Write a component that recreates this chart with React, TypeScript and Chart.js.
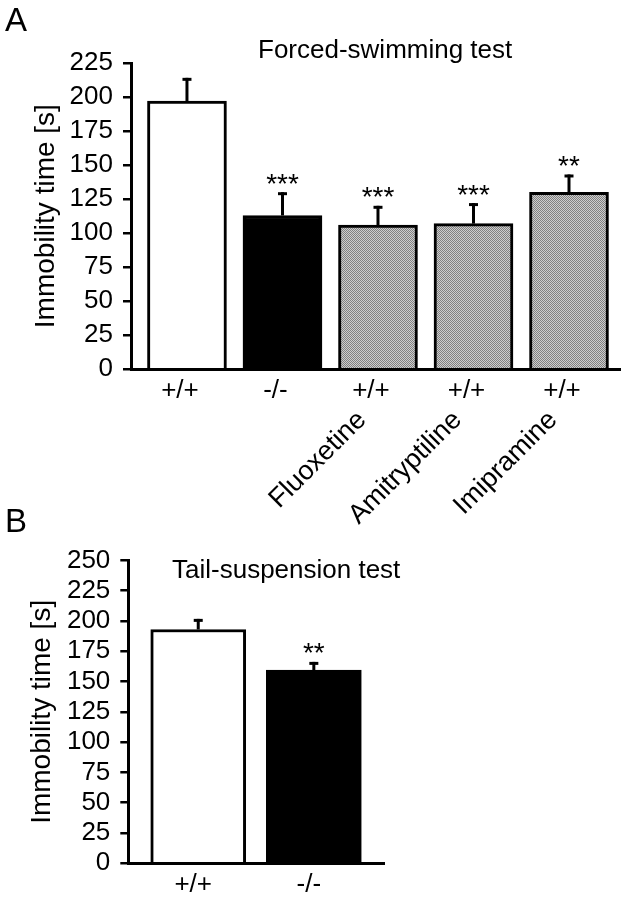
import React, { useEffect, useRef } from 'react';
import { Chart, registerables } from 'chart.js';

Chart.register(...registerables);

const FONT = '"Liberation Sans", Arial, Helvetica, sans-serif';

// ---------- Panel A: Forced-swimming test ----------
const A_TITLE = 'Forced-swimming test';
const A_GENOTYPES = ['+/+', '-/-', '+/+', '+/+', '+/+'];
const A_TREATMENTS = ['', '', 'Fluoxetine', 'Amitryptiline', 'Imipramine'];
const A_MEANS = [197, 113, 106, 107, 130];
const A_SEM = [16, 16, 13, 14, 12];
const A_SIG = ['', '***', '***', '***', '**'];
const A_Y_MAX = 225;

// ---------- Panel B: Tail-suspension test ----------
const B_TITLE = 'Tail-suspension test';
const B_GENOTYPES = ['+/+', '-/-'];
const B_MEANS = [193, 159.5];
const B_SEM = [7.5, 5.5];
const B_SIG = ['', '**'];
const B_Y_MAX = 250;

const Y_STEP = 25;
const Y_LABEL = 'Immobility time [s]';

function makeStipple(): CanvasPattern | string {
  const c = document.createElement('canvas');
  c.width = 2;
  c.height = 2;
  const g = c.getContext('2d');
  if (!g) return '#a5a5a5';
  g.fillStyle = '#cdcdcd';
  g.fillRect(0, 0, 2, 2);
  g.fillStyle = '#808080';
  g.fillRect(0, 0, 1, 1);
  g.fillRect(1, 1, 1, 1);
  return g.createPattern(c, 'repeat') || '#a5a5a5';
}

function errorBarPlugin(means: number[], sems: number[], sig: string[]) {
  return {
    id: 'errorBars',
    afterDatasetsDraw(chart: any) {
      const { ctx } = chart;
      const xs = chart.scales.x;
      const ys = chart.scales.y;
      ctx.save();
      ctx.strokeStyle = '#000';
      ctx.fillStyle = '#000';
      ctx.lineWidth = 3;
      ctx.lineCap = 'butt';
      means.forEach((m, i) => {
        const x = xs.getPixelForValue(i);
        const y0 = ys.getPixelForValue(m);
        const y1 = ys.getPixelForValue(m + sems[i]);
        ctx.beginPath();
        ctx.moveTo(x, y0);
        ctx.lineTo(x, y1 - 1.5);
        ctx.stroke();
        ctx.beginPath();
        ctx.moveTo(x - 4.5, y1);
        ctx.lineTo(x + 4.5, y1);
        ctx.stroke();
        if (sig[i]) {
          ctx.font = `28px ${FONT}`;
          ctx.textAlign = 'center';
          ctx.textBaseline = 'alphabetic';
          ctx.fillText(sig[i], x, y1 - 1);
        }
      });
      ctx.restore();
    },
  };
}

function textPlugin(items: { text: string; x: number; y: number; size: number }[]) {
  return {
    id: 'panelText',
    afterDraw(chart: any) {
      const { ctx } = chart;
      ctx.save();
      ctx.fillStyle = '#000';
      ctx.textAlign = 'left';
      ctx.textBaseline = 'alphabetic';
      items.forEach((it) => {
        ctx.font = `${it.size}px ${FONT}`;
        ctx.fillText(it.text, it.x, it.y);
      });
      ctx.restore();
    },
  };
}

function buildConfig(p: {
  genotypes: string[];
  treatments?: string[];
  means: number[];
  sems: number[];
  sig: string[];
  yMax: number;
  fills: any[];
  xMin: number;
  xMax: number;
  barThickness: number;
  padding: { top: number; right: number; bottom: number; left: number };
  yWidth: number;
  yTitlePad: number;
  xHeight: number;
  x2Height?: number;
  labelOffset: number;
  texts: { text: string; x: number; y: number; size: number }[];
}) {
  const idxTicks = (s: any) => {
    s.ticks = p.genotypes.map((_, i) => ({ value: i }));
  };
  const scales: any = {
    x: {
      type: 'linear',
      position: 'bottom',
      weight: 0,
      min: p.xMin,
      max: p.xMax,
      offset: false,
      afterBuildTicks: idxTicks,
      afterFit: (s: any) => {
        s.height = p.xHeight;
      },
      grid: { display: false, drawTicks: false, offset: false },
      border: { display: true, color: '#000', width: 3 },
      ticks: {
        autoSkip: false,
        maxRotation: 0,
        minRotation: 0,
        padding: 6,
        labelOffset: p.labelOffset,
        color: '#000',
        font: { family: FONT, size: 26 },
        callback: (v: number) => p.genotypes[v] ?? '',
      },
    },
    y: {
      type: 'linear',
      min: 0,
      max: p.yMax,
      afterFit: (s: any) => {
        s.width = p.yWidth;
      },
      grid: {
        display: true,
        drawOnChartArea: false,
        drawTicks: true,
        tickLength: 8,
        color: '#000',
        lineWidth: 2.5,
      },
      border: { display: true, color: '#000', width: 3 },
      ticks: {
        stepSize: Y_STEP,
        autoSkip: false,
        padding: 10,
        color: '#000',
        font: { family: FONT, size: 26 },
      },
      title: {
        display: true,
        text: Y_LABEL,
        color: '#000',
        font: { family: FONT, size: 28 },
        padding: { top: p.yTitlePad, bottom: 0 },
      },
    },
  };
  if (p.treatments) {
    const tr = p.treatments;
    scales.x2 = {
      type: 'linear',
      position: 'bottom',
      weight: 1,
      min: p.xMin,
      max: p.xMax,
      offset: false,
      afterBuildTicks: idxTicks,
      afterFit: (s: any) => {
        s.height = p.x2Height;
      },
      grid: { display: false, drawTicks: false, offset: false },
      border: { display: false },
      ticks: {
        autoSkip: false,
        minRotation: 45,
        maxRotation: 45,
        padding: 4,
        labelOffset: -16,
        color: '#000',
        font: { family: FONT, size: 27 },
        callback: (v: number) => tr[v] ?? '',
      },
    };
  }
  return {
    type: 'bar' as const,
    data: {
      datasets: [
        {
          data: p.means.map((m, i) => ({ x: i, y: m })),
          backgroundColor: p.fills,
          borderColor: '#000',
          borderWidth: 3,
          borderSkipped: 'bottom',
          barThickness: p.barThickness,
        },
      ],
    },
    options: {
      animation: false,
      responsive: false,
      devicePixelRatio: 1,
      layout: { padding: p.padding },
      plugins: { legend: { display: false }, tooltip: { enabled: false }, title: { display: false } },
      scales,
    },
    plugins: [errorBarPlugin(p.means, p.sems, p.sig), textPlugin(p.texts)],
  };
}

export default function App() {
  const refA = useRef<HTMLCanvasElement>(null);
  const refB = useRef<HTMLCanvasElement>(null);

  useEffect(() => {
    const stipple = makeStipple();
    const cfgA = buildConfig({
      genotypes: A_GENOTYPES,
      treatments: A_TREATMENTS,
      means: A_MEANS,
      sems: A_SEM,
      sig: A_SIG,
      yMax: A_Y_MAX,
      fills: ['#ffffff', '#000000', stipple, stipple, stipple],
      xMin: -0.586,
      xMax: 4.534,
      barThickness: 79,
      padding: { top: 63, right: 8, bottom: 0, left: 0 },
      yWidth: 131,
      yTitlePad: 29,
      xHeight: 31,
      x2Height: 129.7,
      labelOffset: -7,
      texts: [
        { text: 'A', x: 5, y: 31, size: 33 },
        { text: A_TITLE, x: 258, y: 58, size: 26 },
      ],
    });
    const cfgB = buildConfig({
      genotypes: B_GENOTYPES,
      means: B_MEANS,
      sems: B_SEM,
      sig: B_SIG,
      yMax: B_Y_MAX,
      fills: ['#ffffff', '#000000'],
      xMin: -0.605,
      xMax: 1.607,
      barThickness: 95,
      padding: { top: 60.4, right: 244, bottom: 5.7, left: 0 },
      yWidth: 128.3,
      yTitlePad: 25,
      xHeight: 30,
      labelOffset: -5,
      texts: [
        { text: 'B', x: 5, y: 32, size: 33 },
        { text: B_TITLE, x: 172, y: 78, size: 26 },
      ],
    });
    const a = new Chart(refA.current as HTMLCanvasElement, cfgA as any);
    const b = new Chart(refB.current as HTMLCanvasElement, cfgB as any);
    return () => {
      a.destroy();
      b.destroy();
    };
  }, []);

  return (
    <div style={{ position: 'absolute', left: 0, top: 0, width: 628, height: 899, background: '#fff' }}>
      <canvas
        ref={refA}
        width={628}
        height={530}
        style={{ position: 'absolute', left: 0, top: 0, width: 628, height: 530 }}
      />
      <canvas
        ref={refB}
        width={628}
        height={399}
        style={{ position: 'absolute', left: 0, top: 500, width: 628, height: 399 }}
      />
    </div>
  );
}
